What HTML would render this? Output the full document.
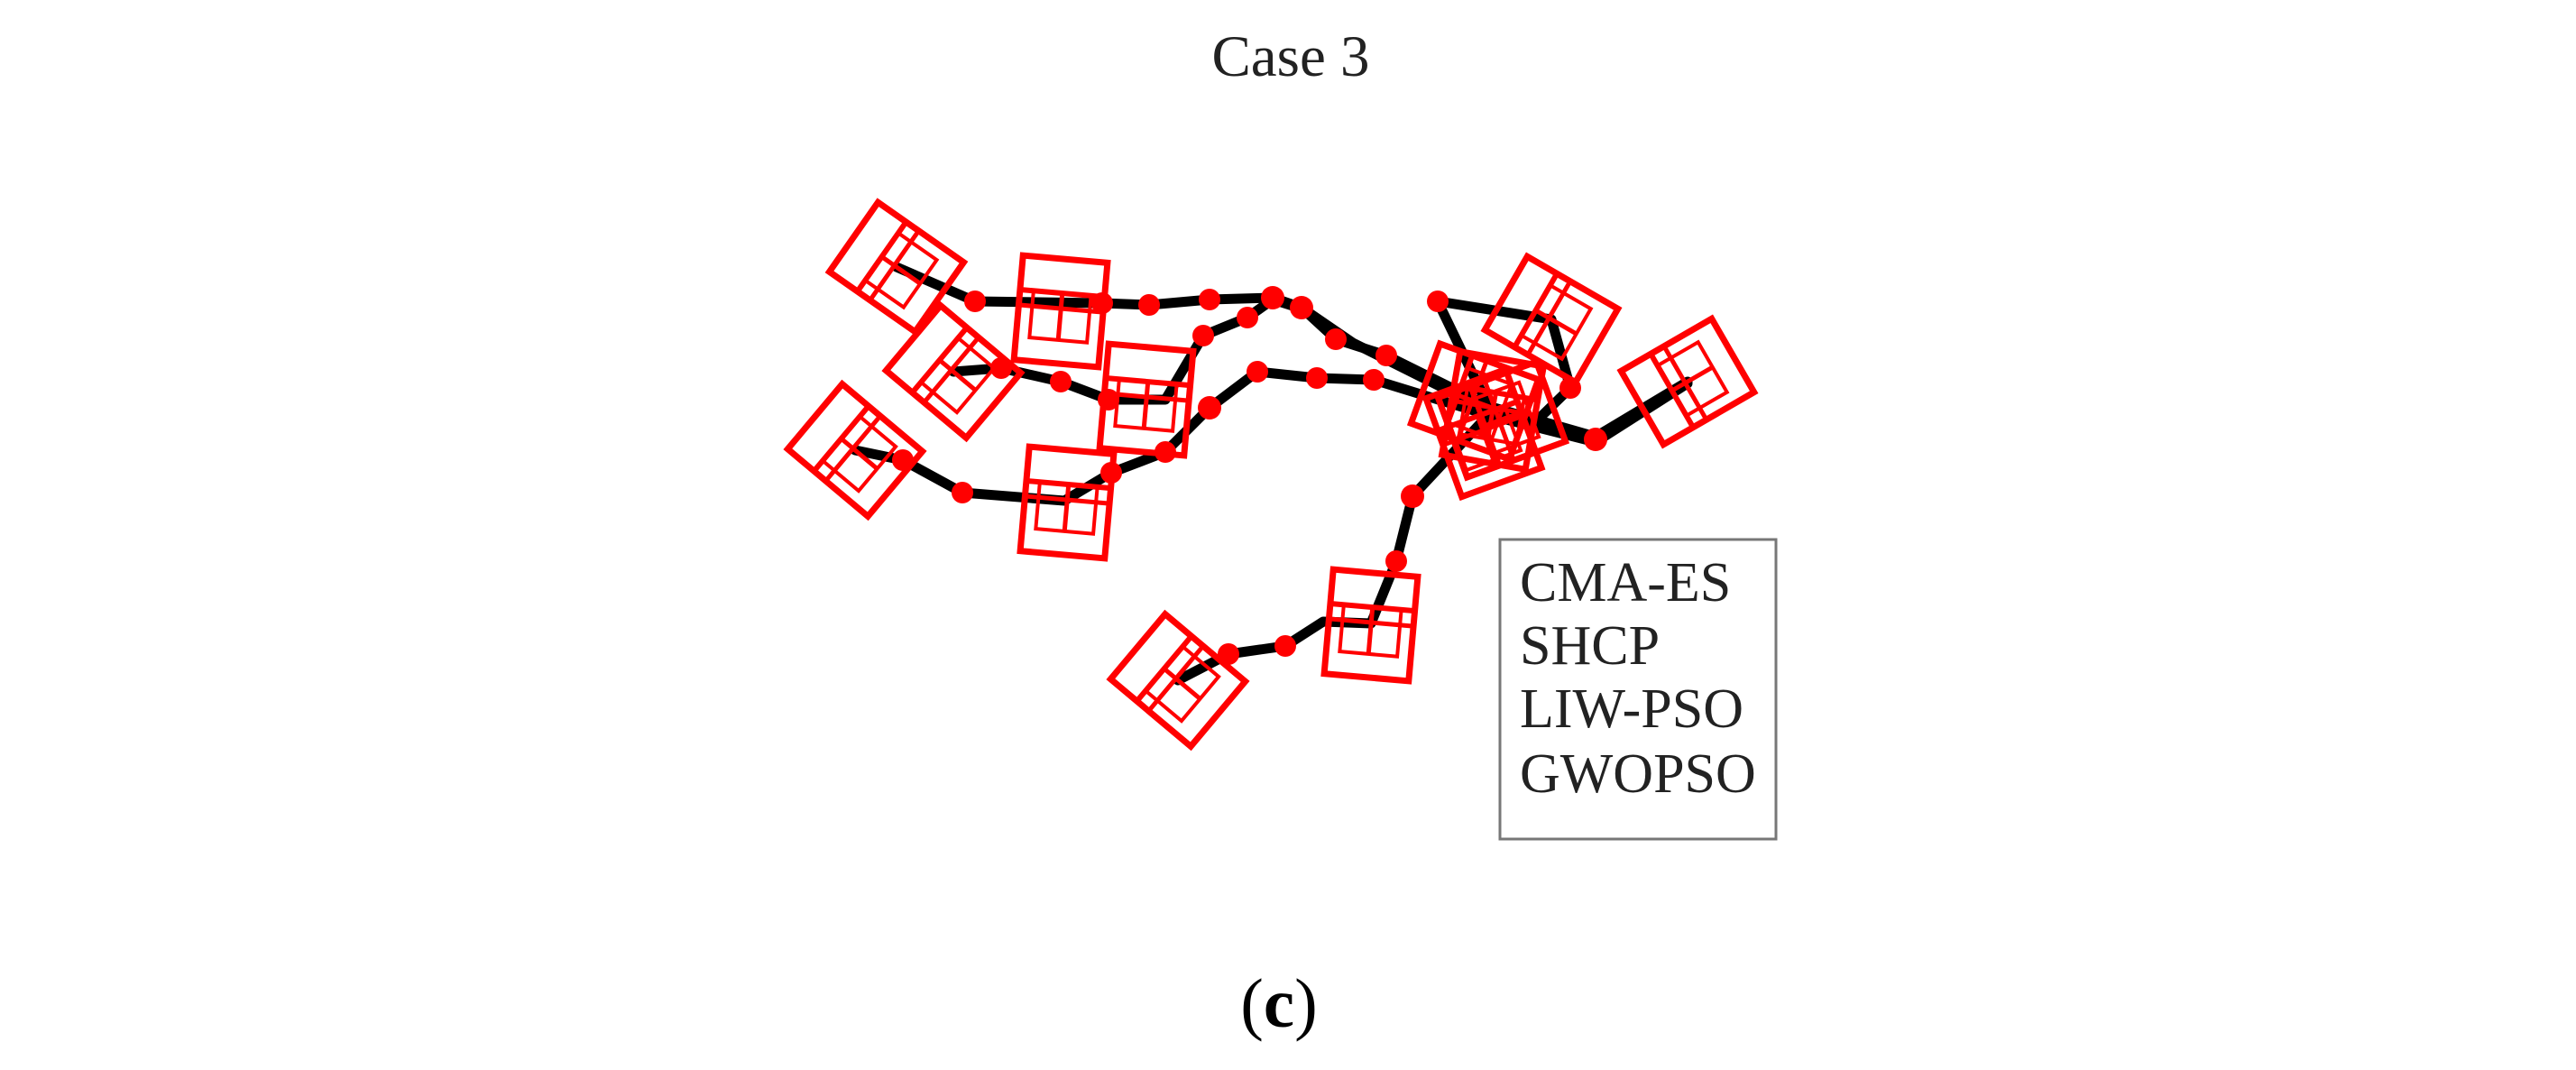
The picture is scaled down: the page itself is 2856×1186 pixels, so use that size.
<!DOCTYPE html>
<html><head><meta charset="utf-8"><style>
html,body{margin:0;padding:0;background:#fff;}
svg{display:block}
</style></head><body>
<svg width="2856" height="1186" viewBox="0 0 2856 1186" xmlns="http://www.w3.org/2000/svg">
<defs>
<g id="cube">
<rect x="-58" y="-47" width="116" height="94" fill="none" stroke="#f00" stroke-width="7"/>
<line x1="-20" y1="-47" x2="-20" y2="47" stroke="#f00" stroke-width="6"/>
<line x1="-3" y1="-47" x2="-3" y2="47" stroke="#f00" stroke-width="5"/>
<line x1="-20" y1="0" x2="32" y2="0" stroke="#f00" stroke-width="5"/>
<rect x="-20" y="-32" width="52" height="64" fill="none" stroke="#f00" stroke-width="4"/>
</g>
</defs>
<text x="1431" y="84" font-family="Liberation Serif, serif" font-size="65" text-anchor="middle" fill="#222">Case 3</text>

<g fill="none" stroke="#000" stroke-width="11" stroke-linejoin="round" stroke-linecap="round">
<polyline points="994,296 1081,334 1222,336 1274,338 1341,332 1411,330 1443,341 1481,376 1537,394 1650,450 1769,484 1871,423"/>
<polyline points="1057,412 1110,408 1176,423 1229,443 1292,443 1334,372 1383,352 1411,332 1446,343 1500,380 1650,455 1769,487"/>
<polyline points="948,499 1001,510 1067,546 1180,555 1232,524 1292,501 1341,452 1394,412 1460,419 1523,421 1650,460 1769,490 1871,425"/>
<polyline points="1306,754 1362,725 1425,716 1467,689 1520,691 1548,622 1566,550 1650,460"/>
<polyline points="1594,334 1720,354 1741,430 1700,470"/>
<polyline points="1594,334 1650,450"/>
</g>

<g fill="#f00">
<circle cx="1081" cy="334" r="12"/><circle cx="1222" cy="336" r="12"/><circle cx="1274" cy="338" r="12"/>
<circle cx="1341" cy="332" r="12"/><circle cx="1411" cy="330" r="13"/><circle cx="1443" cy="341" r="13"/>
<circle cx="1481" cy="376" r="12"/><circle cx="1537" cy="394" r="12"/>
<circle cx="1110" cy="408" r="12"/><circle cx="1176" cy="423" r="12"/><circle cx="1229" cy="443" r="12"/>
<circle cx="1334" cy="372" r="12"/><circle cx="1383" cy="352" r="12"/>
<circle cx="1001" cy="510" r="12"/><circle cx="1067" cy="546" r="12"/><circle cx="1232" cy="524" r="12"/>
<circle cx="1292" cy="501" r="12"/><circle cx="1341" cy="452" r="13"/><circle cx="1394" cy="412" r="12"/>
<circle cx="1460" cy="419" r="12"/><circle cx="1523" cy="421" r="12"/><circle cx="1769" cy="487" r="13"/>
<circle cx="1362" cy="725" r="12"/><circle cx="1425" cy="716" r="12"/><circle cx="1548" cy="622" r="12"/>
<circle cx="1566" cy="550" r="13"/><circle cx="1594" cy="334" r="12"/><circle cx="1741" cy="430" r="12"/>
</g>

<use href="#cube" transform="translate(994,296) rotate(35)"/>
<use href="#cube" transform="translate(1176,345) rotate(95)"/>
<use href="#cube" transform="translate(1057,412) rotate(40)"/>
<use href="#cube" transform="translate(1271,443) rotate(95)"/>
<use href="#cube" transform="translate(948,499) rotate(40)"/>
<use href="#cube" transform="translate(1183,557) rotate(95)"/>
<use href="#cube" transform="translate(1720,354) rotate(30)"/>
<use href="#cube" transform="translate(1871,423) rotate(-30)"/>
<use href="#cube" transform="translate(1635,445) rotate(20)"/>
<use href="#cube" transform="translate(1665,465) rotate(-20)"/>
<use href="#cube" transform="translate(1645,480) rotate(70)"/>
<use href="#cube" transform="translate(1655,455) rotate(100)"/>
<use href="#cube" transform="translate(1520,693) rotate(95)"/>
<use href="#cube" transform="translate(1306,754) rotate(40)"/>

<rect x="1663" y="598" width="306" height="332" fill="none" stroke="#777" stroke-width="3"/>
<g font-family="Liberation Serif, serif" font-size="62" fill="#222">
<text x="1685" y="666">CMA-ES</text>
<text x="1685" y="736">SHCP</text>
<text x="1685" y="806">LIW-PSO</text>
<text x="1685" y="878">GWOPSO</text>
</g>
<text x="1418" y="1138" font-family="Liberation Serif, serif" font-size="77" text-anchor="middle" fill="#000">(<tspan font-weight="bold">c</tspan>)</text>
</svg>
</body></html>
